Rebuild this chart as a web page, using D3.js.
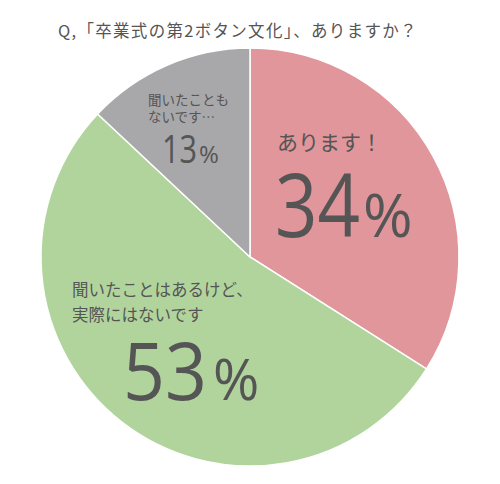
<!DOCTYPE html>
<html>
<head>
<meta charset="utf-8">
<script src="https://cdn.jsdelivr.net/npm/d3@7"></script>
<style>
  body { margin: 0; background: #fff; }
  svg { display: block; }
  text { font-family: "Noto Sans CJK JP", "Open Sans", sans-serif; fill: #555; }
</style>
</head>
<body>
<svg id="chart" width="500" height="484"></svg>
<script>
// data
var labels = ["あります！", "聞いたことはあるけど、\n実際にはないです", "聞いたことも\nないです…"];
var values = [34, 53, 13];
var colors = ["#e0969b", "#b1d49d", "#a8a8aa"];
var title = "Q,「卒業式の第2ボタン文化」、ありますか？";

var cx = 250, cy = 257, radius = 209;

var svg = d3.select("#chart");

svg.append("text")
    .attr("x", 58).attr("y", 37)
    .style("font-size", "16.5px")
    .style("letter-spacing", "1.3px")
    .text(title);

var pie = d3.pie().sort(null).value(function(d) { return d; });
var arc = d3.arc().innerRadius(0).outerRadius(radius);

var g = svg.append("g").attr("transform", "translate(" + cx + "," + cy + ")");

g.selectAll("path")
    .data(pie(values))
    .enter().append("path")
    .attr("d", arc)
    .attr("fill", function(d, i) { return colors[i]; })
    .attr("stroke", "#fff")
    .attr("stroke-width", 1.5);

// label placement (relative to pie centre)
// x,y: text label; nx,ny,nw,big: digits; qx,pct: percent sign
var labelPos = [
    { x: 27, y: -107, size: 21, lh: 24, nx: 25, ny: -20, nw: 85, big: 87, qx: 113, pct: 60 },
    { x: -178, y: 39, size: 16.5, lh: 25, nx: -127, ny: 143, nw: 84, big: 81, qx: -37, pct: 56 },
    { x: -102, y: -152, size: 13.5, lh: 17, nx: -88, ny: -94, nw: 35, big: 38, qx: -51, pct: 24 }
];

labels.forEach(function(lab, i) {
    var p = labelPos[i];
    var t = g.append("text")
        .attr("x", p.x).attr("y", p.y)
        .style("font-size", p.size + "px");
    lab.split("\n").forEach(function(line, j) {
        t.append("tspan")
            .attr("x", p.x)
            .attr("dy", j == 0 ? 0 : p.lh)
            .text(line);
    });
    g.append("text")
        .attr("x", p.nx).attr("y", p.ny)
        .attr("textLength", p.nw)
        .attr("lengthAdjust", "spacingAndGlyphs")
        .style("font-family", "'Open Sans', sans-serif")
        .style("font-size", p.big + "px")
        .text(values[i]);
    g.append("text")
        .attr("x", p.qx).attr("y", p.ny)
        .style("font-family", "'Open Sans', sans-serif")
        .style("font-size", p.pct + "px")
        .text("%");
});
</script>
</body>
</html>
